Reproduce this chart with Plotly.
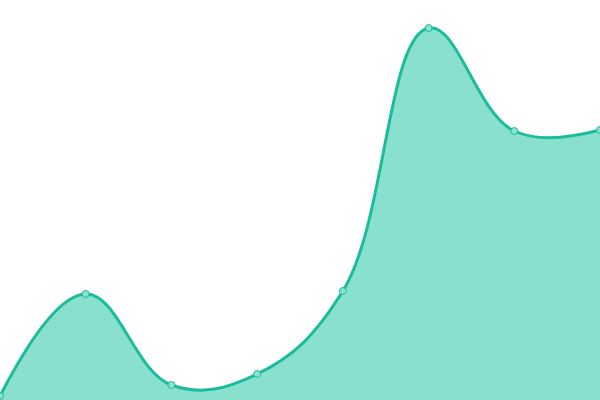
import plotly.graph_objects as go

categories = [0, 1, 2, 3, 4, 5, 6, 7]
values = [4, 106, 15, 26, 109, 372, 269, 270]

fig = go.Figure()
fig.add_trace(go.Scatter(
    x=categories,
    y=values,
    mode="lines+markers",
    line=dict(color="#1abc9c", width=3, shape="spline", smoothing=1.15),
    marker=dict(size=7, color="#8be0cf", line=dict(color="#1abc9c", width=1)),
    fill="tozeroy",
    fillcolor="#89e0cf",
    hoverinfo="skip",
))
fig.update_layout(
    width=600, height=400,
    margin=dict(l=0, r=0, t=0, b=0),
    paper_bgcolor="white", plot_bgcolor="white",
    showlegend=False,
    xaxis=dict(range=[0, 7], visible=False, fixedrange=True),
    yaxis=dict(range=[0, 400], visible=False, fixedrange=True),
)
fig.write_html(
    "out.html",
    config={"displayModeBar": False},
    post_script="document.body.style.margin='0';document.body.style.overflow='hidden';",
)
